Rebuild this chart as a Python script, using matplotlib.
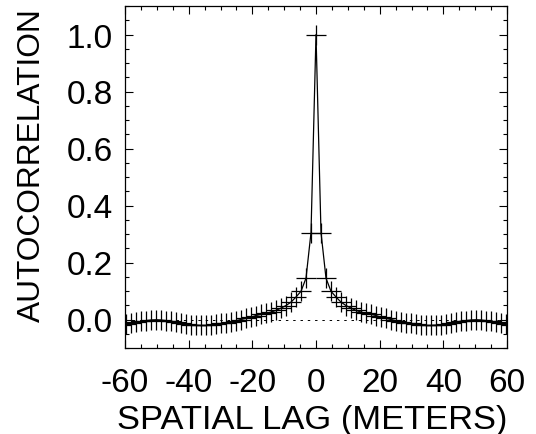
import numpy as np
import matplotlib
matplotlib.use("Agg")
import matplotlib.pyplot as plt
from matplotlib.ticker import MultipleLocator

plt.rcParams['font.family'] = ['Liberation Sans', 'DejaVu Sans']

# Lag step (meters) and one-sided autocorrelation values (lag >= 0)
lag_step = 1.57
acf_pos = [1.000, 0.305, 0.145, 0.099, 0.079, 0.061, 0.049, 0.040, 0.032, 0.026,
           0.022, 0.018, 0.014, 0.008, 0.004, 0.000, -0.004, -0.008, -0.011, -0.014,
           -0.017, -0.019, -0.021, -0.021, -0.020, -0.018, -0.015, -0.012, -0.009, -0.006,
           -0.004, -0.002, -0.001, -0.002, -0.004, -0.007, -0.010, -0.014, -0.017, -0.020]

xlabel = "SPATIAL LAG (METERS)"
ylabel = "AUTOCORRELATION"
xticks = [-60, -40, -20, 0, 20, 40, 60]
yticks = [0.0, 0.2, 0.4, 0.6, 0.8, 1.0]

n = len(acf_pos)
lags_pos = np.arange(n) * lag_step
lags = np.concatenate([-lags_pos[:0:-1], lags_pos])
acf = np.concatenate([np.array(acf_pos)[:0:-1], np.array(acf_pos)])

fig = plt.figure(figsize=(5.36, 4.35), dpi=100)
ax = fig.add_axes([125/536, 1-349/435, (507-125)/536, (349-7)/435])

ax.plot([-60, 60], [0, 0], color='black', lw=0.7, linestyle=(0, (2.5, 5)))
ax.plot(lags, acf, color='black', lw=0.9, marker='+', markersize=14,
        markeredgewidth=0.9)

ax.set_xlim(-60, 60)
ax.set_ylim(-0.1, 1.1)
ax.set_xticks(xticks)
ax.set_xticklabels([str(t) for t in xticks])
ax.set_yticks(yticks)
ax.set_yticklabels([f"{t:.1f}" for t in yticks])
ax.xaxis.set_minor_locator(MultipleLocator(5))
ax.yaxis.set_minor_locator(MultipleLocator(0.05))
ax.tick_params(which='both', direction='in', top=True, right=True, width=0.8,
               labelsize=24)
ax.tick_params(which='major', length=6)
ax.tick_params(which='minor', length=3)
ax.tick_params(axis='x', pad=14)
ax.tick_params(axis='y', pad=9)
for s in ax.spines.values():
    s.set_linewidth(0.9)

ax.set_xlabel(xlabel, fontsize=24.8, labelpad=0)
ax.set_ylabel(ylabel, fontsize=22.8)
ax.yaxis.set_label_coords(-0.205, 0.538)
ax.xaxis.set_label_coords(0.49, -0.165)

fig.savefig("out.png", dpi=100)
